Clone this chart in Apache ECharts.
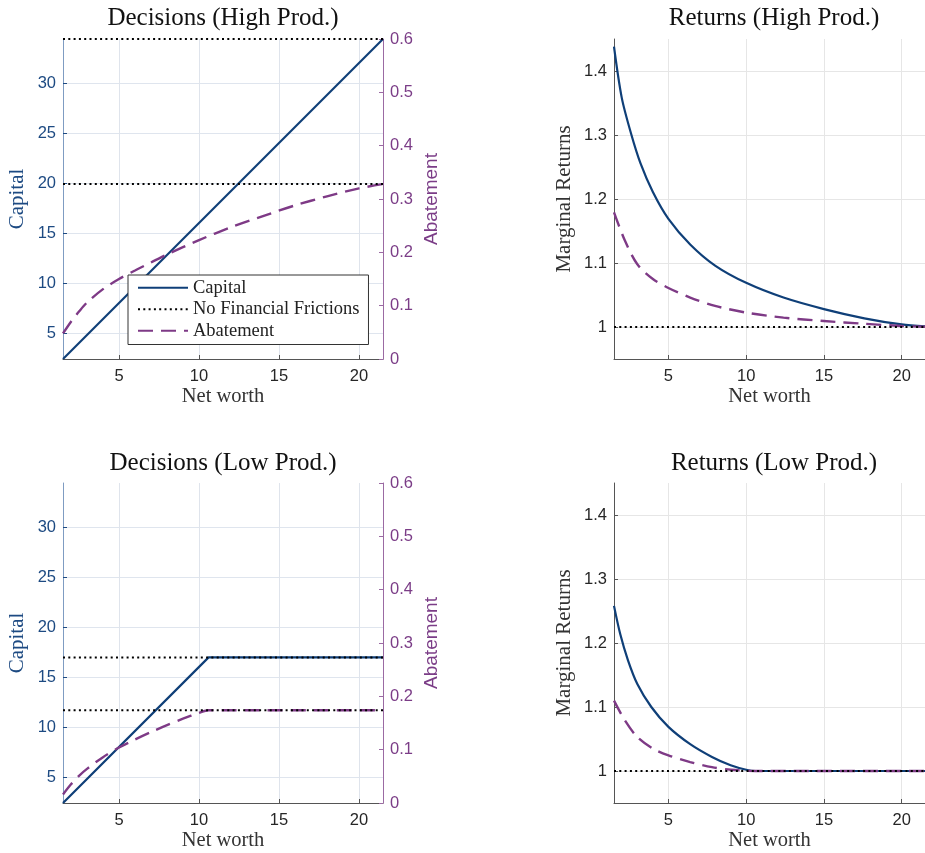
<!DOCTYPE html>
<html>
<head>
<meta charset="utf-8">
<script src="https://cdn.jsdelivr.net/npm/echarts@6/dist/echarts.min.js"></script>
<style>
  html, body { margin: 0; padding: 0; background: #fff; }
  #chart { width: 925px; height: 853px; }
</style>
</head>
<body>
<div id="chart"></div>
<script>
// ---- data: net worth grids and policy / return values ----
const netWorthTicks = [5, 10, 15, 20];
const capitalTicks = [5, 10, 15, 20, 25, 30];
const returnTicks = [1, 1.1, 1.2, 1.3, 1.4];

// High productivity: decisions
const nwCapitalHigh = [1.5, 21.5];
const capitalHigh = [2.4, 34.4];
const nwAbateHigh = [1.5, 2, 2.5, 3, 4, 5, 6, 7, 8, 10, 12, 14, 16, 18, 20, 21.5];
const abatementHigh = [0.048, 0.070, 0.089, 0.106, 0.131, 0.150, 0.166, 0.181, 0.196, 0.223, 0.247, 0.268, 0.288, 0.305, 0.320, 0.328];
const capitalNoFrictionHigh = 34.4;
const abatementNoFrictionHigh = 0.328;

// Low productivity: decisions
const nwCapitalLow = [1.5, 10.6, 21.5];
const capitalLow = [2.4, 16.96, 16.96];
const nwAbateLow = [1.5, 2, 2.5, 3, 4, 5, 6, 7, 8, 9, 10, 10.6, 21.5];
const abatementLow = [0.016, 0.035, 0.051, 0.064, 0.086, 0.104, 0.119, 0.133, 0.146, 0.158, 0.169, 0.174, 0.174];
const capitalNoFrictionLow = 16.96;
const abatementNoFrictionLow = 0.174;

// High productivity: marginal returns
const nwReturnCapHigh = [1.5, 2, 2.6, 3.2, 4, 5, 6.4, 8, 10, 12.4, 15, 17.6, 20, 21.5];
const returnCapHigh = [1.438, 1.358, 1.302, 1.256, 1.211, 1.169, 1.129, 1.096, 1.069, 1.046, 1.028, 1.0136, 1.004, 1.001];
const nwReturnAbHigh = [1.5, 2.2, 3, 4, 5, 6.4, 8, 10, 12.4, 15, 17.6, 20, 21.5];
const returnAbHigh = [1.179, 1.135, 1.098, 1.075, 1.061, 1.046, 1.033, 1.0225, 1.0146, 1.0094, 1.005, 1.0016, 1.0003];

// Low productivity: marginal returns
const nwReturnCapLow = [1.5, 1.9, 2.4, 3, 3.9, 5, 6.4, 7.8, 9, 10, 10.6, 21.5];
const returnCapLow = [1.258, 1.214, 1.173, 1.136, 1.100, 1.069, 1.042, 1.022, 1.009, 1.002, 1.0, 1.0];
const nwReturnAbLow = [1.5, 2.2, 3, 4, 5, 6.4, 7.8, 9, 10.6, 21.5];
const returnAbLow = [1.110, 1.079, 1.053, 1.035, 1.0245, 1.014, 1.006, 1.002, 1.0, 1.0];
const returnNoFriction = 1;

const nwMin = 1.5, nwMax = 21.5;

// ---- styling ----
const BLUE = '#0f3f78';
const BLUE_TXT = '#1d4a82';
const BLUE_AXIS = '#7f9cc2';
const PURPLE = '#7e3a86';
const PURPLE_TXT = '#7b3d87';
const PURPLE_AXIS = '#9b6aa3';
const DARK = '#262626';
const SERIF = '"Liberation Serif", "DejaVu Serif", serif';
const SANS = '"Liberation Sans", Arial, sans-serif';
const DOT = [2, 3.3];
const DASH = [15, 8];

const zip = (xs, ys) => xs.map((x, i) => [x, ys[i]]);
const flat = v => [[nwMin, v], [nwMax, v]];

const grids = [
  { left: 63, top: 39, width: 320, height: 320 },
  { left: 63, top: 483, width: 320, height: 320 },
  { left: 614, top: 39, width: 320, height: 320 },
  { left: 614, top: 483, width: 320, height: 320 }
];

function xAxis(gi, gridColor) {
  return {
    type: 'value', gridIndex: gi, min: nwMin, max: nwMax,
    name: 'Net worth', nameLocation: 'middle', nameGap: 27,
    nameTextStyle: { fontFamily: SERIF, fontSize: 20.5, color: '#333' },
    axisLine: { show: true, onZero: false, lineStyle: { color: '#555', width: 1 } },
    axisTick: { show: true, inside: true, length: 4, customValues: netWorthTicks, lineStyle: { color: '#555' } },
    axisLabel: { customValues: netWorthTicks, fontFamily: SANS, fontSize: 16.5, color: DARK, margin: 9 },
    splitLine: { show: true, lineStyle: { color: gridColor, width: 1 } }
  };
}

function capitalAxis(gi) {
  return {
    type: 'value', gridIndex: gi, position: 'left', min: 2.4, max: 34.4,
    name: 'Capital', nameLocation: 'middle', nameGap: 35, nameRotate: 90,
    nameTextStyle: { fontFamily: SERIF, fontSize: 21, color: BLUE_TXT },
    axisLine: { show: true, onZero: false, lineStyle: { color: BLUE_AXIS, width: 1 } },
    axisTick: { show: true, inside: true, length: 4, customValues: capitalTicks, lineStyle: { color: BLUE_TXT } },
    axisLabel: { customValues: capitalTicks, fontFamily: SANS, fontSize: 16.5, color: BLUE_TXT, margin: 7 },
    splitLine: { show: true, lineStyle: { color: '#dfe5ee', width: 1 } }
  };
}

function abatementAxis(gi) {
  return {
    type: 'value', gridIndex: gi, position: 'right', min: 0, max: 0.6, interval: 0.1,
    name: 'Abatement', nameLocation: 'middle', nameGap: 39, nameRotate: 90,
    nameTextStyle: { fontFamily: SANS, fontSize: 19, color: PURPLE_TXT },
    axisLine: { show: true, onZero: false, lineStyle: { color: PURPLE_AXIS, width: 1 } },
    axisTick: { show: true, inside: true, length: 4, lineStyle: { color: PURPLE_AXIS } },
    axisLabel: { fontFamily: SANS, fontSize: 16.5, color: PURPLE_TXT, margin: 7 },
    splitLine: { show: false }
  };
}

function returnAxis(gi) {
  return {
    type: 'value', gridIndex: gi, position: 'left', min: 0.95, max: 1.45,
    name: 'Marginal Returns', nameLocation: 'middle', nameGap: 39, nameRotate: 90,
    nameTextStyle: { fontFamily: SERIF, fontSize: 21, color: '#333' },
    axisLine: { show: true, onZero: false, lineStyle: { color: '#555', width: 1 } },
    axisTick: { show: true, inside: true, length: 4, customValues: returnTicks, lineStyle: { color: '#555' } },
    axisLabel: { customValues: returnTicks, fontFamily: SANS, fontSize: 16.5, color: DARK, margin: 7 },
    splitLine: { show: true, lineStyle: { color: '#e6e6e6', width: 1 } }
  };
}

function line(name, xi, yi, data, color, type, width, smooth) {
  return {
    type: 'line', name, xAxisIndex: xi, yAxisIndex: yi, data,
    showSymbol: false, symbol: 'none', smooth: smooth ? 0.3 : false,
    silent: true, animation: false,
    lineStyle: { color, type, width }, itemStyle: { color }
  };
}

const titleStyle = { fontFamily: SERIF, fontSize: 25, fontWeight: 'normal', color: '#111' };

const option = {
  backgroundColor: '#fff',
  animation: false,
  title: [
    { text: 'Decisions (High Prod.)', left: 223, top: 6, textAlign: 'center', padding: 0, textStyle: titleStyle },
    { text: 'Returns (High Prod.)', left: 774, top: 6, textAlign: 'center', padding: 0, textStyle: titleStyle },
    { text: 'Decisions (Low Prod.)', left: 223, top: 451, textAlign: 'center', padding: 0, textStyle: titleStyle },
    { text: 'Returns (Low Prod.)', left: 774, top: 451, textAlign: 'center', padding: 0, textStyle: titleStyle }
  ],
  legend: {
    data: ['Capital', 'No Financial Frictions', 'Abatement'],
    orient: 'vertical', left: 128, top: 275,
    itemWidth: 50, itemHeight: 14, itemGap: 0,
    padding: [2, 9, 3, 9],
    backgroundColor: '#fff', borderColor: '#333', borderWidth: 1,
    selectedMode: false,
    itemStyle: { opacity: 0 },
    textStyle: { fontFamily: SERIF, fontSize: 18.5, color: '#222', lineHeight: 21.5 }
  },
  grid: grids,
  xAxis: [xAxis(0, '#dfe4ec'), xAxis(1, '#dfe4ec'), xAxis(2, '#e6e6e6'), xAxis(3, '#e6e6e6')],
  yAxis: [
    capitalAxis(0), abatementAxis(0),
    capitalAxis(1), abatementAxis(1),
    returnAxis(2), returnAxis(3)
  ],
  series: [
    // Decisions, high productivity
    line('Capital', 0, 0, zip(nwCapitalHigh, capitalHigh), BLUE, 'solid', 2.2, false),
    line('Abatement', 0, 1, zip(nwAbateHigh, abatementHigh), PURPLE, DASH, 2.4, true),
    line('No Financial Frictions', 0, 0, flat(capitalNoFrictionHigh), '#000', DOT, 2, false),
    line('No Financial Frictions', 0, 1, flat(abatementNoFrictionHigh), '#000', DOT, 2, false),
    // Decisions, low productivity
    line('Capital', 1, 2, zip(nwCapitalLow, capitalLow), BLUE, 'solid', 2.2, false),
    line('Abatement', 1, 3, zip(nwAbateLow, abatementLow), PURPLE, DASH, 2.4, true),
    line('No Financial Frictions', 1, 2, flat(capitalNoFrictionLow), '#000', DOT, 2, false),
    line('No Financial Frictions', 1, 3, flat(abatementNoFrictionLow), '#000', DOT, 2, false),
    // Returns, high productivity
    line('Capital', 2, 4, zip(nwReturnCapHigh, returnCapHigh), BLUE, 'solid', 2.2, true),
    line('Abatement', 2, 4, zip(nwReturnAbHigh, returnAbHigh), PURPLE, DASH, 2.4, true),
    line('No Financial Frictions', 2, 4, flat(returnNoFriction), '#000', DOT, 2, false),
    // Returns, low productivity
    line('Capital', 3, 5, zip(nwReturnCapLow, returnCapLow), BLUE, 'solid', 2.2, true),
    line('Abatement', 3, 5, zip(nwReturnAbLow, returnAbLow), PURPLE, DASH, 2.4, true),
    line('No Financial Frictions', 3, 5, flat(returnNoFriction), '#000', DOT, 2, false)
  ]
};

const chart = echarts.init(document.getElementById('chart'), null, { renderer: 'canvas' });
chart.setOption(option);
</script>
</body>
</html>
